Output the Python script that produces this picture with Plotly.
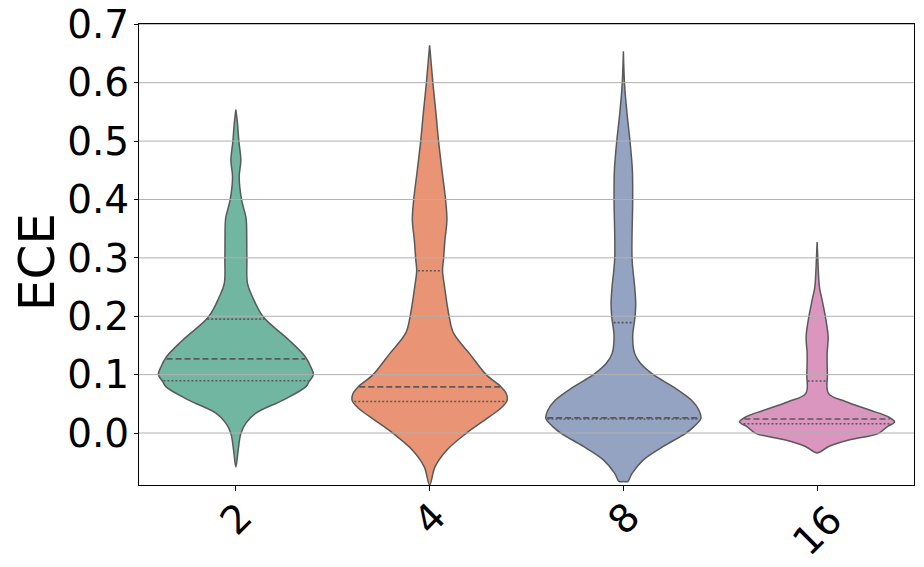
import numpy as np
import plotly.graph_objects as go

# categories and colours (seaborn Set2, desaturated)
groups = ["2", "4", "8", "16"]
colors = ["#71b6a1", "#e99575", "#95a3c3", "#db96c0"]

# violin outlines:
# ECE value and half-width relative to the widest point of that violin
ece_2 = [-0.058, -0.029, -0.001, 0.017, 0.034, 0.056, 0.079, 0.088, 0.100, 0.1135, 0.131, 0.159,
         0.199, 0.233, 0.256, 0.299, 0.359, 0.370, 0.400, 0.439, 0.467, 0.499, 0.530, 0.554]
wid_2 = [0.0, 0.030, 0.064, 0.129, 0.258, 0.601, 0.901, 0.944, 1.0, 0.966, 0.893, 0.687,
         0.352, 0.215, 0.150, 0.142, 0.137, 0.129, 0.073, 0.043, 0.064, 0.039, 0.021, 0.0]

ece_4 = [-0.089, -0.058, -0.029, -0.0005, 0.028, 0.042, 0.056, 0.068, 0.079, 0.100, 0.136, 0.171,
         0.199, 0.250, 0.278, 0.299, 0.330, 0.365, 0.399, 0.450, 0.499, 0.547, 0.598, 0.638, 0.664]
wid_4 = [0.0, 0.069, 0.223, 0.472, 0.773, 0.914, 1.0, 0.987, 0.923, 0.730, 0.515, 0.309,
         0.253, 0.193, 0.167, 0.180, 0.197, 0.223, 0.206, 0.159, 0.116, 0.082, 0.043, 0.017, 0.0]

ece_8 = [-0.083, -0.083, -0.069, -0.046, -0.023, -0.0005, 0.011, 0.025, 0.039, 0.056, 0.079,
         0.100, 0.119, 0.136, 0.165, 0.199, 0.222, 0.250, 0.299, 0.399, 0.450, 0.499, 0.547,
         0.598, 0.654]
wid_8 = [0.0, 0.056, 0.112, 0.258, 0.515, 0.803, 0.910, 1.0, 0.975, 0.880, 0.644,
         0.386, 0.223, 0.146, 0.120, 0.150, 0.159, 0.146, 0.112, 0.120, 0.116, 0.086, 0.047,
         0.015, 0.0]

ece_16 = [-0.034, -0.023, -0.012, -0.0005, 0.011, 0.019, 0.028, 0.039, 0.054, 0.068, 0.101,
          0.136, 0.165, 0.199, 0.228, 0.250, 0.299, 0.327]
wid_16 = [0.0, 0.150, 0.408, 0.794, 0.906, 1.0, 0.915, 0.687, 0.365, 0.146, 0.133,
          0.129, 0.142, 0.107, 0.064, 0.030, 0.009, 0.0]

# quartiles per group
q1 = [0.0895, 0.054, 0.024, 0.016]
medians = [0.127, 0.079, 0.026, 0.024]
q3 = [0.195, 0.278, 0.189, 0.089]

y_ticks = [0.0, 0.1, 0.2, 0.3, 0.4, 0.5, 0.6, 0.7]

profiles = [(ece_2, wid_2), (ece_4, wid_4), (ece_8, wid_8), (ece_16, wid_16)]
half_max = 0.4  # seaborn width=0.8
edge = "#595959"
font = "DejaVu Sans"

fig = go.Figure()

for i, (ece, wid) in enumerate(profiles):
    ece = np.array(ece)
    wid = np.array(wid)
    xs = np.concatenate([i + half_max * wid, (i - half_max * wid)[::-1]])
    ys = np.concatenate([ece, ece[::-1]])
    fig.add_trace(go.Scatter(
        x=xs, y=ys, mode="lines", fill="toself", fillcolor=colors[i],
        line=dict(color=edge, width=1.5, shape="spline", smoothing=1.0),
        showlegend=False, hoverinfo="skip"
    ))
    # inner quartile lines
    for val, dash in [(q1[i], "2px,2px"), (medians[i], "6px,3px"), (q3[i], "2px,2px")]:
        hw = half_max * np.interp(val, ece, wid) - 0.006
        fig.add_trace(go.Scatter(
            x=[i - hw, i + hw], y=[val, val], mode="lines",
            line=dict(color=edge, width=1.6, dash=dash),
            showlegend=False, hoverinfo="skip"
        ))

# gridlines drawn on top of the violins, like the reference
for t in y_ticks:
    fig.add_shape(type="line", xref="paper", x0=0, x1=1, yref="y", y0=t, y1=t,
                  line=dict(color="#b0b0b0", width=1), layer="above")

# rotated category labels
for i, g in enumerate(groups):
    fig.add_annotation(x=i, xref="x", y=0, yref="paper", text=g, showarrow=False,
                       textangle=-45, xanchor="center", yanchor="middle",
                       yshift=-33 - 12 * (len(g) - 1),
                       font=dict(family=font, size=39, color="black"))

fig.add_annotation(x=-0.1315, xref="paper", y=0.4835, yref="paper", text="ECE",
                   showarrow=False, textangle=-90, xanchor="center", yanchor="middle",
                   font=dict(family=font, size=50, color="black"))

# the page body has an 8px margin, so the figure is 8px smaller than the window
fig.update_layout(
    width=916, height=559,
    margin=dict(l=131, r=10, t=16, b=82, autoexpand=False),
    plot_bgcolor="white", paper_bgcolor="white",
    font=dict(family=font, color="black"),
    xaxis=dict(
        range=[-0.5, 3.5], tickvals=[0, 1, 2, 3], ticktext=["", "", "", ""],
        showgrid=False, zeroline=False, showline=True, mirror=True, automargin=False,
        linecolor="black", linewidth=1, ticks="outside", ticklen=5, tickcolor="black"
    ),
    yaxis=dict(
        range=[-0.089, 0.7005], tickvals=y_ticks,
        ticktext=[f"{t:.1f}" for t in y_ticks],
        showgrid=False, zeroline=False, showline=True, mirror=True, automargin=False,
        linecolor="black", linewidth=1, ticks="outside", ticklen=4, tickcolor="black",
        ticklabelstandoff=-3, ticklabeloverflow="allow",
        tickfont=dict(size=39, family=font)
    ),
)

fig.write_html("out.html")
